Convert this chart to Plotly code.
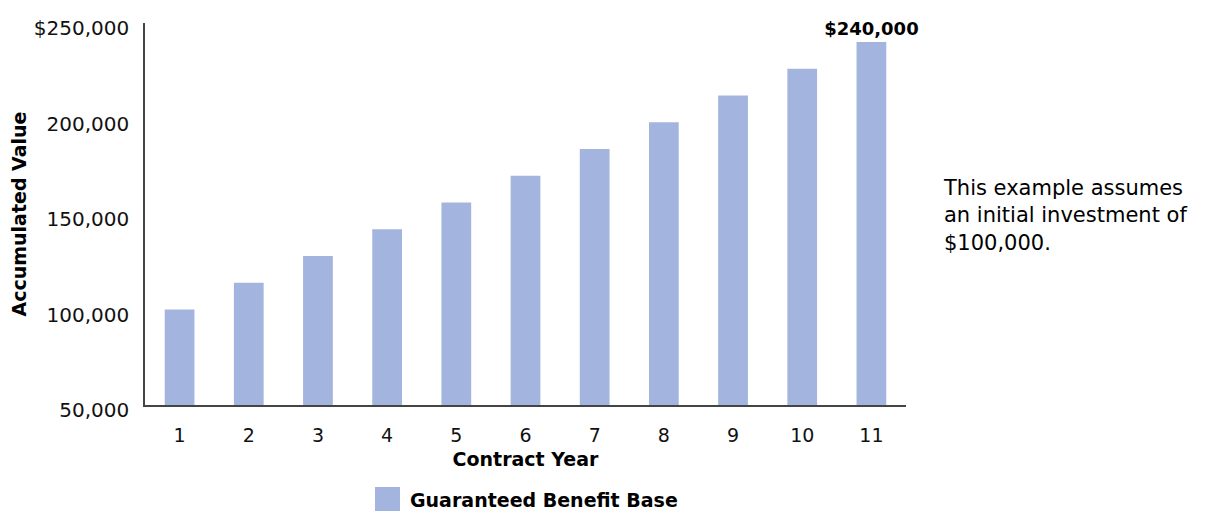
import plotly.graph_objects as go

years = [str(i) for i in range(1, 12)]
values = [100000, 114000, 128000, 142000, 156000, 170000, 184000, 198000, 212000, 226000, 240000]
bar_labels = [""] * 10 + ["$240,000"]
tick_vals = [50000, 100000, 150000, 200000, 250000]
tick_text = ["50,000", "100,000", "150,000", "200,000", "$250,000"]
series_name = "Guaranteed Benefit Base"
note = "This example assumes<br>an initial investment of<br>$100,000."

FONT = "DejaVu Sans"
BAR = "#A3B5DE"
AX = "#444444"

# the page body adds an 8px offset, so the figure is 8px smaller
W, H = 1210, 503
L, R, T, B = 137, 312, 15, 106
PW, PH = W - L - R, H - T - B
OX, OY = L + 8, H - B + 8  # plot-area origin in page pixels

px_x = lambda p: (p - OX) / PW
px_y = lambda p: (OY - p) / PH

fig = go.Figure()
fig.add_trace(go.Bar(x=years, y=values, name=series_name, marker=dict(color=BAR, line=dict(width=0)),
                     text=[("<b>" + t + "</b>") if t else "" for t in bar_labels],
                     textposition="outside", cliponaxis=False, constraintext="none",
                     outsidetextfont=dict(family=FONT, size=18, color="#000"),
                     showlegend=False))

fig.add_annotation(xref="paper", yref="paper", x=px_x(941), y=px_y(216),
                   xanchor="left", yanchor="middle",
                   text=note, showarrow=False, align="left",
                   font=dict(family=FONT, size=21, color="#000"))

# legend key (swatch + label, to match the large square key)
fig.add_shape(type="rect", xref="paper", yref="paper", x0=px_x(375), x1=px_x(400), y0=px_y(512), y1=px_y(487),
              fillcolor=BAR, line=dict(width=0))
fig.add_annotation(xref="paper", yref="paper", x=px_x(408), y=px_y(500), xanchor="left", yanchor="middle",
                   text="<b>" + series_name + "</b>", showarrow=False,
                   font=dict(family=FONT, size=19, color="#000"))

fig.update_layout(
    width=W, height=H,
    margin=dict(l=L, r=R, t=T, b=B, autoexpand=False),
    paper_bgcolor="white", plot_bgcolor="white",
    bargap=0.57,
    font=dict(family=FONT, size=19, color="#111"),
    showlegend=False,
    xaxis=dict(range=[-0.5, 10.5], showline=True, linecolor=AX, linewidth=1.5, automargin=False,
               showgrid=False, ticks="", ticklabelstandoff=12,
               tickfont=dict(family=FONT, size=19, color="#111"),
               title=dict(text="<b>Contract Year</b>", standoff=8,
                          font=dict(family=FONT, size=19, color="#000"))),
    yaxis=dict(range=[50000, 250000], showline=True, linecolor=AX, linewidth=1.5, automargin=False,
               showgrid=False, zeroline=False, ticks="", tickvals=tick_vals, ticktext=tick_text,
               ticklabelshift=5, ticklabelstandoff=10,
               tickfont=dict(family=FONT, size=20, color="#111"),
               title=dict(text="<b>Accumulated Value</b>", standoff=11,
                          font=dict(family=FONT, size=19, color="#000"))),
)

fig.write_html("out.html")
